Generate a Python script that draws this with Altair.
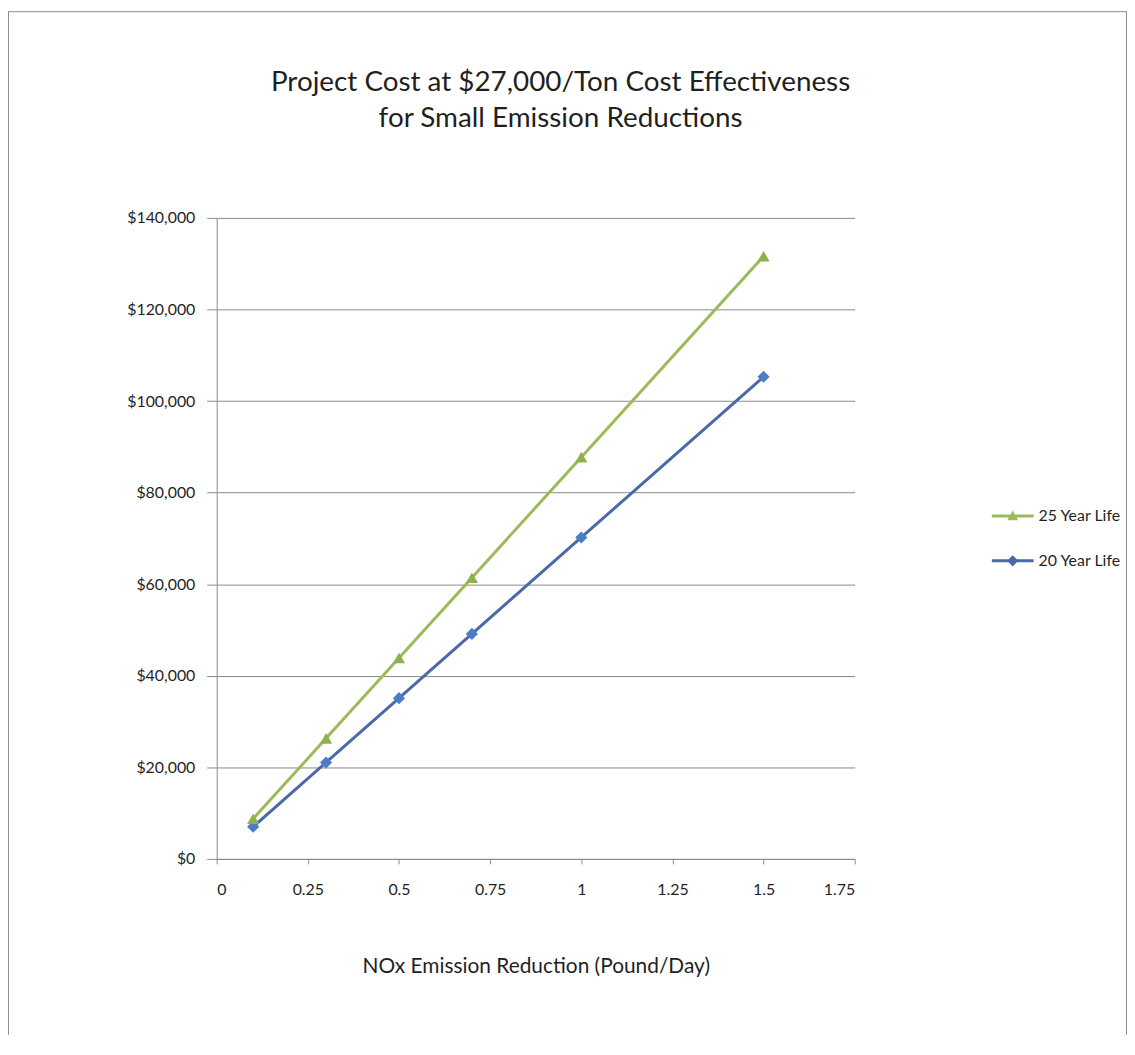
import altair as alt
import pandas as pd

# ---- data ----
reduction = [0.1, 0.3, 0.5, 0.7, 1.0, 1.5]
cost_25yr = [8775, 26325, 43875, 61425, 87750, 131625]
cost_20yr = [7020, 21060, 35100, 49140, 70200, 105300]
series = ["25 Year Life", "20 Year Life"]
x_ticks = [0, 0.25, 0.5, 0.75, 1, 1.25, 1.5, 1.75]
y_ticks = [0, 20000, 40000, 60000, 80000, 100000, 120000, 140000]
title_lines = ["Project Cost at $27,000/Ton Cost Effectiveness",
               "for Small Emission Reductions"]

line_colors = ["#9BBB59", "#4A69A6"]
marker_colors = ["#8DB24A", "#4A7CC8"]

FONT = "Lato"
TXT = "#1f1f1f"
GRID = "#8a8a8a"

df = pd.DataFrame({
    "Reduction": reduction + reduction,
    "Cost": cost_25yr + cost_20yr,
    "Series": [series[0]] * len(reduction) + [series[1]] * len(reduction),
})

x = alt.X("Reduction:Q",
          scale=alt.Scale(domain=[0, 1.75], nice=False, zero=False),
          axis=alt.Axis(values=x_ticks, format=".2~f", grid=False, tickSize=5,
                        labelPadding=18, labelFontSize=16, labelFont=FONT, labelColor=TXT,
                        title="NOx Emission Reduction (Pound/Day)", titleFont=FONT,
                        titleFontSize=21, titleFontWeight="normal", titleColor=TXT,
                        titlePadding=58, domainColor=GRID, tickColor=GRID))
y = alt.Y("Cost:Q",
          scale=alt.Scale(domain=[0, 140000], nice=False),
          axis=alt.Axis(values=y_ticks, format="$,.0f", grid=True, gridColor=GRID,
                        tickSize=10, labelPadding=12, labelFontSize=16, labelFont=FONT,
                        labelColor=TXT, title=None, domainColor=GRID, tickColor=GRID))

base = alt.Chart(df)

lines = base.mark_line(strokeWidth=3).encode(
    x=x, y=y,
    color=alt.Color("Series:N", scale=alt.Scale(domain=series, range=line_colors), legend=None),
    detail="Series:N",
)

pts25 = base.transform_filter(alt.datum.Series == series[0]).mark_point(
    shape="triangle-up", filled=True, size=150, opacity=1, color=marker_colors[0]
).encode(x=x, y=y)

pts20 = base.transform_filter(alt.datum.Series == series[1]).mark_point(
    shape="diamond", filled=True, size=150, opacity=1, color=marker_colors[1]
).encode(x=x, y=y)

tri_path = "M-1,-0.07L1,-0.07L1,0.07L-1,0.07Z M0,-0.26L0.26,0.2L-0.26,0.2Z"
dia_path = "M-1,-0.07L1,-0.07L1,0.07L-1,0.07Z M0,-0.27L0.27,0L0,0.27L-0.27,0Z"

leg = alt.Legend(title=None, orient="none", legendX=780, legendY=279, direction="vertical",
                 symbolSize=1764, symbolStrokeWidth=0, labelFont=FONT, labelFontSize=16,
                 labelColor=TXT, labelOffset=5, rowPadding=16)

legend_layer = base.transform_filter("false").mark_point(filled=True, size=1764, opacity=1).encode(
    x=x, y=y,
    fill=alt.Fill("Series:N", scale=alt.Scale(domain=series, range=line_colors), legend=leg),
    shape=alt.Shape("Series:N", scale=alt.Scale(domain=series, range=[tri_path, dia_path]), legend=leg),
)

one = alt.Data(values=[{"k": 1}])
title1 = alt.Chart(one).mark_text(text=title_lines[0], font=FONT, fontSize=28, color=TXT,
                                  align="center", baseline="middle").encode(
    x=alt.value(346), y=alt.value(-136))
title2 = alt.Chart(one).mark_text(text=title_lines[1], font=FONT, fontSize=28, color=TXT,
                                  align="center", baseline="middle").encode(
    x=alt.value(346), y=alt.value(-99))

frame_top = alt.Chart(one).mark_rule(color="#8c8c8c", strokeWidth=1).encode(
    x=alt.value(-210), x2=alt.value(916), y=alt.value(-207.5))
frame_left = alt.Chart(one).mark_rule(color="#8c8c8c", strokeWidth=1).encode(
    x=alt.value(-209.5), y=alt.value(-208), y2=alt.value(822))
frame_right = alt.Chart(one).mark_rule(color="#8c8c8c", strokeWidth=1).encode(
    x=alt.value(915.5), y=alt.value(-208), y2=alt.value(822))

chart = alt.layer(lines, pts20, pts25, legend_layer, title1, title2,
                  frame_top, frame_left, frame_right).resolve_scale(
    color="independent"
).properties(
    width=642, height=645,
    autosize="none",
    background="white",
    padding={"left": 210, "top": 208, "right": 274, "bottom": 177},
).configure_view(stroke=None)

chart.save("out.html", embed_options={"renderer": "svg", "actions": False})
